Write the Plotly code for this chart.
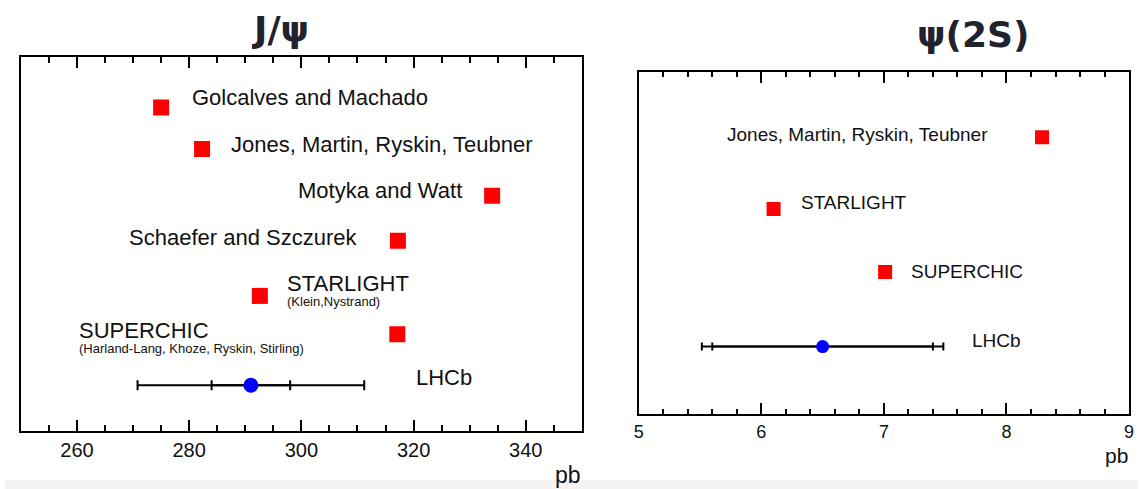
import plotly.graph_objects as go

# ---------------- data ----------------
jpsi_models = ["Golcalves and Machado", "Jones, Martin, Ryskin, Teubner", "Motyka and Watt",
               "Schaefer and Szczurek", "STARLIGHT", "SUPERCHIC"]
jpsi_subtitles = ["", "", "", "", "(Klein,Nystrand)", "(Harland-Lang, Khoze, Ryskin, Stirling)"]
jpsi_values = [275.0, 282.3, 334.0, 317.2, 292.6, 317.1]
jpsi_rows = [6.92, 6.03, 5.03, 4.07, 2.89, 2.07]
jpsi_lhcb_value = 291.0
jpsi_lhcb_stat = 7.0
jpsi_lhcb_total = 20.2
jpsi_lhcb_row = 0.98

psi2s_models = ["Jones, Martin, Ryskin, Teubner", "STARLIGHT", "SUPERCHIC"]
psi2s_values = [8.29, 6.10, 7.01]
psi2s_rows = [4.05, 3.00, 2.08]
psi2s_lhcb_value = 6.5
psi2s_lhcb_stat = 0.9
psi2s_lhcb_total = 0.985
psi2s_lhcb_row = 0.99

jpsi_ticks = [260, 280, 300, 320, 340]
psi2s_ticks = [5, 6, 7, 8, 9]

# ---------------- label placement (layout) ----------------
jpsi_label_pos = [  # (x, y, anchor)
    (280.2, 7.125, "left"), (287.1, 6.134, "left"), (329.0, 5.136, "right"),
    (310.2, 4.131, "right"), (297.1, 3.157, "left"), (260.0, 2.144, "left")]
jpsi_sub_pos = [None, None, None, None, (297.1, 2.779), (260.0, 1.759)]
jpsi_lhcb_label = (320.1, 1.154)

psi2s_label_pos = [(5.707, 4.094, "left"), (6.305, 3.094, "left"), (7.207, 2.085, "left")]
psi2s_lhcb_label = (7.70, 1.086)

FONT = "Liberation Sans, Arial, Helvetica, sans-serif"
TITLE_FONT = "DejaVu Sans, Liberation Sans, Arial, sans-serif"
W, H = 1143, 489

fig = go.Figure()

# ---- J/psi panel ----
fig.add_trace(go.Scatter(x=jpsi_values, y=jpsi_rows, mode="markers",
                         marker=dict(symbol="square", size=16, color="#ff0000"),
                         xaxis="x", yaxis="y", showlegend=False))
fig.add_trace(go.Scatter(x=[jpsi_lhcb_value], y=[jpsi_lhcb_row], mode="markers",
                         marker=dict(size=1, opacity=0),
                         error_x=dict(type="data", array=[jpsi_lhcb_total], color="black",
                                      thickness=2, width=5),
                         xaxis="x", yaxis="y", showlegend=False))
fig.add_trace(go.Scatter(x=[jpsi_lhcb_value], y=[jpsi_lhcb_row], mode="markers",
                         marker=dict(size=1, opacity=0),
                         error_x=dict(type="data", array=[jpsi_lhcb_stat], color="black",
                                      thickness=2, width=5),
                         xaxis="x", yaxis="y", showlegend=False))
fig.add_trace(go.Scatter(x=[jpsi_lhcb_value], y=[jpsi_lhcb_row], mode="markers",
                         marker=dict(symbol="circle", size=15, color="#0000ff"),
                         xaxis="x", yaxis="y", showlegend=False))

# ---- psi(2S) panel ----
fig.add_trace(go.Scatter(x=psi2s_values, y=psi2s_rows, mode="markers",
                         marker=dict(symbol="square", size=14, color="#ff0000"),
                         xaxis="x2", yaxis="y2", showlegend=False))
fig.add_trace(go.Scatter(x=[psi2s_lhcb_value], y=[psi2s_lhcb_row], mode="markers",
                         marker=dict(size=1, opacity=0),
                         error_x=dict(type="data", array=[psi2s_lhcb_total], color="black",
                                      thickness=2, width=4),
                         xaxis="x2", yaxis="y2", showlegend=False))
fig.add_trace(go.Scatter(x=[psi2s_lhcb_value], y=[psi2s_lhcb_row], mode="markers",
                         marker=dict(size=1, opacity=0),
                         error_x=dict(type="data", array=[psi2s_lhcb_stat], color="black",
                                      thickness=2, width=4),
                         xaxis="x2", yaxis="y2", showlegend=False))
fig.add_trace(go.Scatter(x=[psi2s_lhcb_value], y=[psi2s_lhcb_row], mode="markers",
                         marker=dict(symbol="circle", size=13, color="#0000ff"),
                         xaxis="x2", yaxis="y2", showlegend=False))

annotations = []
for name, sub, (lx, ly, anc), spos in zip(jpsi_models, jpsi_subtitles, jpsi_label_pos, jpsi_sub_pos):
    annotations.append(dict(x=lx, y=ly, xref="x", yref="y", text=name, showarrow=False,
                            xanchor=anc, yanchor="middle",
                            font=dict(family=FONT, size=22, color="#111")))
    if sub and spos:
        annotations.append(dict(x=spos[0], y=spos[1], xref="x", yref="y", text=sub,
                                showarrow=False, xanchor="left", yanchor="middle",
                                font=dict(family=FONT, size=13, color="#111")))
annotations.append(dict(x=jpsi_lhcb_label[0], y=jpsi_lhcb_label[1], xref="x", yref="y",
                        text="LHCb", showarrow=False, xanchor="left", yanchor="middle",
                        font=dict(family=FONT, size=22, color="#111")))
for name, (lx, ly, anc) in zip(psi2s_models, psi2s_label_pos):
    annotations.append(dict(x=lx, y=ly, xref="x2", yref="y2", text=name, showarrow=False,
                            xanchor=anc, yanchor="middle",
                            font=dict(family=FONT, size=19, color="#111")))
annotations.append(dict(x=psi2s_lhcb_label[0], y=psi2s_lhcb_label[1], xref="x2", yref="y2",
                        text="LHCb", showarrow=False, xanchor="left", yanchor="middle",
                        font=dict(family=FONT, size=19, color="#111")))

# titles and units
annotations += [
    dict(x=277.4 / W, y=1 - 29 / H, xref="paper", yref="paper", text="<b>J/ψ</b>",
         showarrow=False, xanchor="center", yanchor="middle",
         font=dict(family=TITLE_FONT, size=36, color="#22222c")),
    dict(x=976.3 / W, y=1 - 35 / H, xref="paper", yref="paper", text="<b>ψ(2S)</b>",
         showarrow=False, xanchor="center", yanchor="middle",
         font=dict(family=TITLE_FONT, size=36, color="#22222c")),
    dict(x=583 / W, y=1 - 475 / H, xref="paper", yref="paper", text="pb",
         showarrow=False, xanchor="right", yanchor="middle",
         font=dict(family=FONT, size=23, color="#111")),
    dict(x=1135 / W, y=1 - 455 / H, xref="paper", yref="paper", text="pb",
         showarrow=False, xanchor="right", yanchor="middle",
         font=dict(family=FONT, size=21, color="#111")),
]

axis_common = dict(showline=True, linecolor="black", linewidth=2, mirror="ticks",
                   showgrid=False, zeroline=False, ticks="inside", tickcolor="black",
                   tickwidth=1.5)

fig.update_layout(
    width=W, height=H,
    margin=dict(l=0, r=0, t=0, b=0),
    paper_bgcolor="white", plot_bgcolor="white",
    font=dict(family=FONT, color="#111"),
    xaxis=dict(domain=[16 / W, 582 / W], range=[250, 350], anchor="y",
               tickvals=jpsi_ticks, ticklen=11,
               tickfont=dict(family=FONT, size=20, color="#111"),
               minor=dict(dtick=5, ticklen=6, ticks="inside", tickcolor="black", tickwidth=1.5),
               **axis_common),
    yaxis=dict(domain=[1 - 431 / H, 1 - 57 / H], range=[0, 8], anchor="x",
               showticklabels=False, showline=True, linecolor="black", linewidth=2,
               mirror=True, ticks="", showgrid=False, zeroline=False),
    xaxis2=dict(domain=[639.3 / W, 1134 / W], range=[5, 9], anchor="y2",
                tickvals=psi2s_ticks, ticklen=11,
                tickfont=dict(family=FONT, size=18, color="#111"),
                minor=dict(dtick=0.2, ticklen=5, ticks="inside", tickcolor="black", tickwidth=1.5),
                **axis_common),
    yaxis2=dict(domain=[1 - 414.3 / H, 1 - 72.3 / H], range=[0, 5], anchor="x2",
                showticklabels=False, showline=True, linecolor="black", linewidth=2,
                mirror=True, ticks="", showgrid=False, zeroline=False),
    annotations=annotations,
    shapes=[dict(type="rect", xref="paper", yref="paper", x0=0, x1=1, y0=0, y1=9 / H,
                 fillcolor="#f3f3f3", line=dict(width=0), layer="below")],
)

fig.write_html("out.html", config={"displayModeBar": False},
               post_script="document.body.style.margin='0';document.body.style.overflow='hidden';")
